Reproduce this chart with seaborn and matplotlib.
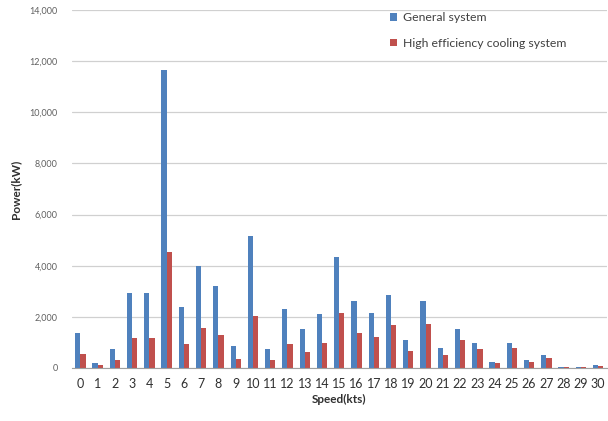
import numpy as np
import pandas as pd
import matplotlib
matplotlib.use('Agg')
import matplotlib.pyplot as plt
import seaborn as sns
from matplotlib.ticker import FuncFormatter, MultipleLocator

# 데이터
speeds = list(range(31))
general = [1380, 200, 760, 2930, 2930, 11650, 2380, 3990, 3220, 870,
           5160, 740, 2300, 1520, 2100, 4330, 2600, 2140, 2850, 1090,
           2600, 780, 1520, 990, 230, 990, 310, 500, 50, 30, 100]
high_eff = [550, 100, 330, 1170, 1170, 4530, 940, 1560, 1270, 350,
            2030, 300, 940, 620, 980, 2140, 1360, 1200, 1700, 680,
            1720, 500, 1090, 740, 200, 790, 250, 380, 30, 20, 80]
series_names = ['General system', 'High efficiency cooling system']

df = pd.DataFrame({
    'Speed': speeds * 2,
    'Power': general + high_eff,
    'System': [series_names[0]] * len(speeds) + [series_names[1]] * len(speeds),
})

sns.set_style('white')
plt.rcParams['font.family'] = ['Lato', 'DejaVu Sans']

fig = plt.figure(figsize=(6.08, 4.21), dpi=100)
ax = fig.add_axes([0.118, 0.126, 0.880, 0.850])

sns.barplot(data=df, x='Speed', y='Power', hue='System', palette=['#4F81BD', '#C0504D'],
            width=0.6, ax=ax, errorbar=None, edgecolor='none', saturation=1)

ax.set_ylim(0, 14000)
ax.set_xlim(-0.5, 30.5)
ax.yaxis.set_major_locator(MultipleLocator(2000))
ax.yaxis.set_major_formatter(FuncFormatter(lambda v, p: f'{int(v):,}'))
ax.yaxis.grid(True, color='#d0d0d0', linewidth=0.9)
ax.set_axisbelow(True)

for s in ['top', 'right', 'left']:
    ax.spines[s].set_visible(False)
ax.spines['bottom'].set_color('#a0a0a0')

ax.tick_params(axis='y', labelsize=6.5, labelcolor='#606060', length=0, pad=10)
ax.tick_params(axis='x', labelsize=9, labelcolor='#303030', length=0, pad=7)
ax.set_xticks(np.arange(-0.5, 31, 1), minor=True)
ax.tick_params(axis='x', which='minor', length=4, color='#a0a0a0', direction='out')

ax.set_xlabel('Speed(kts)', fontsize=8.5, fontweight='bold', color='#303030', labelpad=3)
ax.set_ylabel('Power(kW)', fontsize=8.5, fontweight='bold', color='#303030', labelpad=6)

ax.legend(loc='upper left', bbox_to_anchor=(0.575, 1.025), frameon=False, fontsize=8.8,
          handlelength=0.55, handleheight=0.55, handletextpad=0.5, labelspacing=1.2,
          labelcolor='#404040', title=None)

fig.savefig('out.png', dpi=100)
